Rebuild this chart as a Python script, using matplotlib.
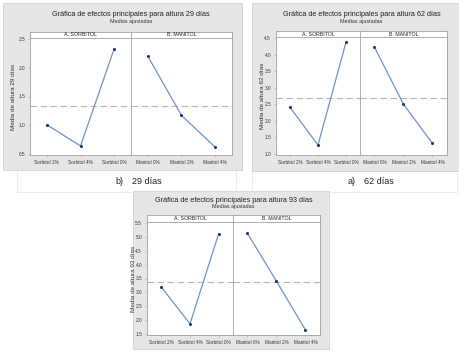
import matplotlib
matplotlib.use("Agg")
import matplotlib.pyplot as plt
from matplotlib.patches import Rectangle
import numpy as np

plt.rcParams['font.family'] = ['Liberation Sans', 'DejaVu Sans']

W, H = 460, 352

sorb_labels = ["Sorbitol 2%", "Sorbitol 4%", "Sorbitol 0%"]
man_labels = ["Manitol 0%", "Manitol 2%", "Manitol 4%"]
facet_a = "A. SORBITOL"
facet_b = "B. MANITOL"

d29_sorb = [1.01, 0.64, 2.33]
d29_man = [2.20, 1.17, 0.62]
d62_sorb = [2.41, 1.27, 4.37]
d62_man = [4.22, 2.50, 1.32]
d93_sorb = [3.19, 1.86, 5.12]
d93_man = [5.13, 3.40, 1.64]

yt29 = [0.5, 1.0, 1.5, 2.0, 2.5]
yt62 = [1.0, 1.5, 2.0, 2.5, 3.0, 3.5, 4.0, 4.5]
yt93 = [1.5, 2.0, 2.5, 3.0, 3.5, 4.0, 4.5, 5.0, 5.5]

fig = plt.figure(figsize=(W / 100, H / 100), dpi=100)
fig.patch.set_facecolor("white")

GREY = "#e6e6e6"
EDGE = "#a0a0a0"
LINE = "#6f93c9"
DOT = "#1c3a78"


def rect(x0, y0, x1, y1):
    return [x0 / W, 1 - y1 / H, (x1 - x0) / W, (y1 - y0) / H]


def fx(x):
    return x / W


def fy(y):
    return 1 - y / H


def panel(grey, x0, x1, div, yh, yp, yb, ylim, yticks, sorb, man,
          title, ylabel, ty, sy, lx):
    gx0, gy0, gx1, gy1 = grey
    fig.patches.append(Rectangle((fx(gx0), fy(gy1)), (gx1 - gx0) / W, (gy1 - gy0) / H,
                                 transform=fig.transFigure, facecolor=GREY,
                                 edgecolor="#d4d4d4", lw=0.6, zorder=-5))
    fig.text(fx((x0 + x1) / 2), fy(ty), title, ha="center", va="center",
             fontsize=5.2, color="#222222")
    fig.text(fx((x0 + x1) / 2), fy(sy), "Medias ajustadas", ha="center",
             va="center", fontsize=3.9, color="#333333")
    fig.text(fx(lx), fy((yp + yb) / 2), ylabel, rotation=90, ha="center",
             va="center", fontsize=4.6, color="#333333")
    grand = np.mean(sorb)
    for i, (xa, xb, vals, labs, fac) in enumerate(
            [(x0, div, sorb, sorb_labels, facet_a),
             (div, x1, man, man_labels, facet_b)]):
        hx = fig.add_axes(rect(xa, yh, xb, yp))
        hx.set_zorder(2)
        hx.set_xticks([]); hx.set_yticks([])
        hx.set_facecolor("white")
        for s in hx.spines.values():
            s.set_color(EDGE); s.set_linewidth(0.6)
        hx.text(0.5, 0.5, fac, ha="center", va="center", fontsize=3.8,
                transform=hx.transAxes, color="#222222")
        ax = fig.add_axes(rect(xa, yp, xb, yb))
        ax.set_zorder(2)
        ax.set_facecolor("white")
        pos = np.arange(len(vals))
        ax.axhline(grand, color="#b5b5b5", lw=0.8, ls=(0, (6, 3)), zorder=1)
        ax.plot(pos, vals, color=LINE, lw=0.9, zorder=2)
        ax.scatter(pos, vals, s=5, color=DOT, zorder=3, linewidths=0)
        ax.set_xlim(-0.5, 2.5)
        ax.set_ylim(*ylim)
        ax.set_xticks(pos)
        ax.set_xticklabels(labs, fontsize=3.4, color="#333333")
        ax.tick_params(axis="x", length=1.5, width=0.4, color=EDGE, pad=2)
        ax.set_yticks(yticks)
        if i == 0:
            ax.set_yticklabels([f"{v:.1f}" for v in yticks], fontsize=3.4,
                               color="#333333")
            ax.tick_params(axis="y", length=1.5, width=0.4, color=EDGE, pad=2)
        else:
            ax.tick_params(axis="y", length=0, labelleft=False)
        for s in ax.spines.values():
            s.set_color(EDGE); s.set_linewidth(0.6)


panel((3, 3, 242, 170), 30, 232, 131, 32, 38, 155, (0.483, 2.517), yt29,
      d29_sorb, d29_man, "Gráfica de efectos principales para altura 29 días",
      "Media de altura 29 días", 14, 22, 14)
panel((252, 3, 460, 171), 276, 447, 360, 31, 37, 155, (0.97, 4.53), yt62,
      d62_sorb, d62_man, "Gráfica de efectos principales para altura 62 días",
      "Media de altura 62 días", 15, 22, 262)
panel((133, 191, 329, 349), 147, 320, 233, 215, 222, 335, (1.46, 5.54), yt93,
      d93_sorb, d93_man, "Gráfica de efectos principales para altura 93 días",
      "Media de altura 93 días", 200, 207, 134)

# caption boxes
for (bx0, by0, bx1, by1) in [(17, 170, 236, 192), (252, 171, 457, 192)]:
    fig.patches.append(Rectangle((fx(bx0), fy(by1)), (bx1 - bx0) / W, (by1 - by0) / H,
                                 transform=fig.transFigure, facecolor="none",
                                 edgecolor="#e4e4e4", lw=0.5, zorder=-6))

fig.text(fx(115), fy(182), "b)", fontsize=6.5, va="center", ha="left", color="#222222")
fig.text(fx(132), fy(182), "29 días", fontsize=6.5, va="center", ha="left", color="#222222")
fig.text(fx(348), fy(181), "a)", fontsize=6.5, va="center", ha="left", color="#222222")
fig.text(fx(364), fy(181), "62 días", fontsize=6.5, va="center", ha="left", color="#222222")

fig.savefig("out.png", dpi=100)
